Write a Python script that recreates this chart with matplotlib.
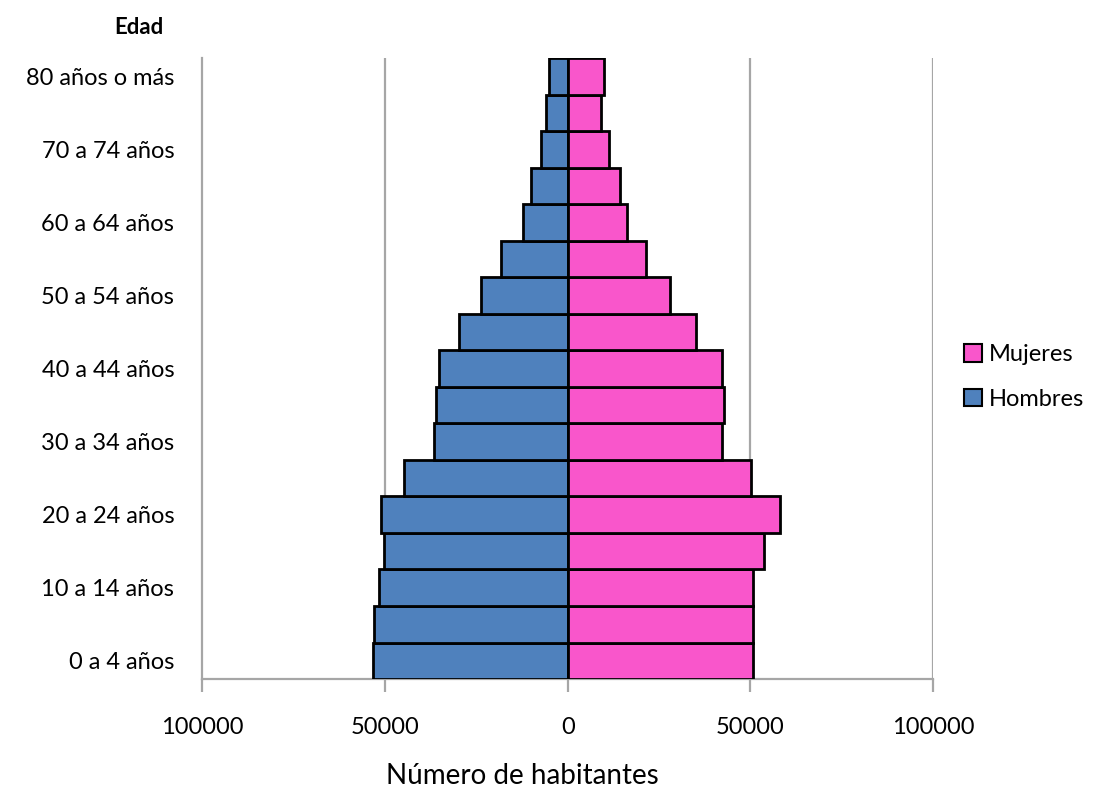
import matplotlib.pyplot as plt
from matplotlib.patches import Patch
from matplotlib.ticker import FuncFormatter

plt.rcParams['font.family'] = ['Lato', 'DejaVu Sans']

edades = ['0 a 4 años', '5 a 9 años', '10 a 14 años', '15 a 19 años', '20 a 24 años',
          '25 a 29 años', '30 a 34 años', '35 a 39 años', '40 a 44 años', '45 a 49 años',
          '50 a 54 años', '55 a 59 años', '60 a 64 años', '65 a 69 años', '70 a 74 años',
          '75 a 79 años', '80 años o más']
hombres = [53200, 53000, 51700, 50300, 51000, 44700, 36600, 35900, 35100, 29600,
           23600, 18100, 12200, 10100, 7300, 5800, 5100]
mujeres = [50800, 50700, 50700, 53600, 58000, 50100, 42200, 42800, 42200, 35000,
           27900, 21500, 16300, 14300, 11300, 9000, 10000]

azul = '#4F81BD'
rosa = '#F956CB'

fig = plt.figure(figsize=(10.98, 7.9), dpi=100)
ax = fig.add_axes([0.184, 0.1405, 0.666, 0.7855])

y = list(range(len(edades)))
ax.barh(y, [-h for h in hombres], height=1, color=azul, edgecolor='black', linewidth=2, zorder=3)
ax.barh(y, mujeres, height=1, color=rosa, edgecolor='black', linewidth=2, zorder=3)

ax.set_xlim(-100000, 100000)
ax.set_ylim(-0.5, len(edades) - 0.5)
ax.set_xticks([-100000, -50000, 0, 50000, 100000])
ax.xaxis.set_major_formatter(FuncFormatter(lambda v, p: f'{abs(int(v))}'))
ax.set_yticks(y[::2])
ax.set_yticklabels(edades[::2])

for gx in [-50000, 50000, 100000]:
    ax.axvline(gx, color='#a6a6a6', linewidth=1.6, zorder=1)

for s in ['top', 'right']:
    ax.spines[s].set_visible(False)
for s in ['left', 'bottom']:
    ax.spines[s].set_color('#a6a6a6')
    ax.spines[s].set_linewidth(1.6)

ax.tick_params(axis='x', length=9, width=1.6, color='#a6a6a6', labelsize=17, pad=18)
ax.tick_params(axis='y', length=0, labelsize=17, pad=20)

fig.text(522 / 1098, 1 - 776 / 790, 'Número de habitantes', ha='center', va='center', fontsize=20)
fig.text(139 / 1098, 1 - 28 / 790, 'Edad', ha='center', va='center', fontsize=16, fontweight='bold')

handles = [Patch(facecolor=rosa, edgecolor='black', linewidth=1.5, label='Mujeres'),
           Patch(facecolor=azul, edgecolor='black', linewidth=1.5, label='Hombres')]
fig.legend(handles=handles, loc='center left', bbox_to_anchor=(955 / 1098, 1 - 377 / 790),
           frameon=False, fontsize=17, handlelength=0.75, handleheight=0.75,
           handletextpad=0.3, labelspacing=1.0, borderaxespad=0)

fig.savefig('out.png', dpi=100)
